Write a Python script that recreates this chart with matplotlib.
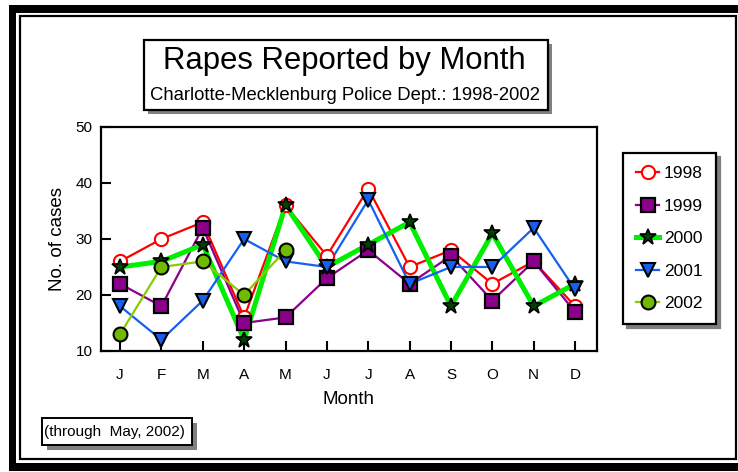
import matplotlib
matplotlib.use("Agg")
import matplotlib.pyplot as plt
from matplotlib.patches import Rectangle
from matplotlib.lines import Line2D

plt.rcParams['font.family'] = ['Liberation Sans', 'DejaVu Sans']

# Data
months = ['J', 'F', 'M', 'A', 'M', 'J', 'J', 'A', 'S', 'O', 'N', 'D']
cases_1998 = [26, 30, 33, 16, 36, 27, 39, 25, 28, 22, 26, 18]
cases_1999 = [22, 18, 32, 15, 16, 23, 28, 22, 27, 19, 26, 17]
cases_2000 = [25, 26, 29, 12, 36, 25, 29, 33, 18, 31, 18, 22]
cases_2001 = [18, 12, 19, 30, 26, 25, 37, 22, 25, 25, 32, 21]
cases_2002 = [13, 25, 26, 20, 28]
years = ['1998', '1999', '2000', '2001', '2002']
y_ticks = [10, 20, 30, 40, 50]

W, H = 738, 472


def fr(x, y):
    """Image pixel coords (top-left origin) -> figure fraction."""
    return x / W, 1 - y / H


def box(fig, x0, y0, x1, y1, **kw):
    fx, fy = fr(x0, y1)
    fig.patches.append(Rectangle((fx, fy), (x1 - x0) / W, (y1 - y0) / H,
                                 transform=fig.transFigure, **kw))


fig = plt.figure(figsize=(W / 100, H / 100), dpi=100)

# Frame: thick black band plus a thin inner line
box(fig, 9, 5, 760, 471, facecolor='black', edgecolor='none', zorder=0)
box(fig, 16, 13, 760, 463, facecolor='white', edgecolor='none', zorder=0)
box(fig, 20, 16, 736, 459, facecolor='none', edgecolor='black', lw=1.6, zorder=1)

# Title box with shadow
box(fig, 148, 44, 552, 114, facecolor='#808080', edgecolor='none', zorder=1)
box(fig, 144, 40, 548, 110, facecolor='white', edgecolor='black', lw=1.6, zorder=2)
fig.text(*fr(344, 61), 'Rapes Reported by Month', ha='center', va='center',
         fontsize=22.4, zorder=3)
fig.text(*fr(345, 96), 'Charlotte-Mecklenburg Police Dept.: 1998-2002',
         ha='center', va='center', fontsize=13.3, zorder=3)

# Footnote box with shadow
box(fig, 47, 423, 197, 450, facecolor='#808080', edgecolor='none', zorder=1)
box(fig, 42, 418, 192, 445, facecolor='white', edgecolor='black', lw=1.4, zorder=2)
fig.text(*fr(44, 432), '(through  May, 2002)', ha='left', va='center',
         fontsize=11, zorder=3)

l, b = fr(101, 351)
r, t = fr(597, 127)
ax = fig.add_axes([l, b, r - l, t - b])
ax.set_facecolor('none')
ax.set_zorder(5)

x = list(range(len(months)))
styles = [
    dict(color='#FF0000', lw=1.6, marker='o', ms=9.5, mfc='white', mec='#FF0000', mew=1.5),
    dict(color='#8B008B', lw=1.6, marker='s', ms=10, mfc='#8B008B', mec='black', mew=1.6),
    dict(color='#00EE00', lw=3.6, marker='*', ms=12, mfc='#004000', mec='black', mew=1.2),
    dict(color='#1560F0', lw=1.6, marker='v', ms=10, mfc='#1560F0', mec='black', mew=1.5),
    dict(color='#88CC00', lw=1.6, marker='o', ms=10, mfc='#70BB00', mec='black', mew=1.5),
]
series = [cases_1998, cases_1999, cases_2000, cases_2001, cases_2002]

# lines first, markers on top
for vals, st in zip(series, styles):
    ax.plot(x[:len(vals)], vals, color=st['color'], lw=st['lw'], zorder=2)
for vals, st in zip(series, styles):
    ax.plot(x[:len(vals)], vals, ls='none', marker=st['marker'], ms=st['ms'],
            mfc=st['mfc'], mec=st['mec'], mew=st['mew'], zorder=3)

ax.set_xlim(-0.46, 11.53)
ax.set_ylim(10, 50)
ax.set_xticks(x)
ax.set_xticklabels(months)
ax.set_yticks(y_ticks)
ax.tick_params(axis='both', direction='in', length=7, width=1.5, labelsize=11)
ax.tick_params(axis='x', pad=12)
ax.tick_params(axis='y', pad=6)
for s in ax.spines.values():
    s.set_linewidth(1.6)
ax.set_xlabel('Month', fontsize=13.5, labelpad=7)
ax.set_ylabel('No. of cases', fontsize=13.5, labelpad=7)

handles = [Line2D([0], [0], **st) for st in styles]
leg = fig.legend(handles, years, loc='upper left', bbox_to_anchor=fr(623, 153),
                 bbox_transform=fig.transFigure, fontsize=12.5, frameon=True,
                 fancybox=False, edgecolor='black', framealpha=1, borderpad=0.75,
                 labelspacing=1.0, handlelength=1.35, handletextpad=0.25,
                 borderaxespad=0,
                 shadow={'ox': 3, 'oy': -3, 'color': '#808080', 'alpha': 1})
leg.get_frame().set_linewidth(1.6)
leg.set_zorder(6)

fig.savefig('out.png', dpi=100)
